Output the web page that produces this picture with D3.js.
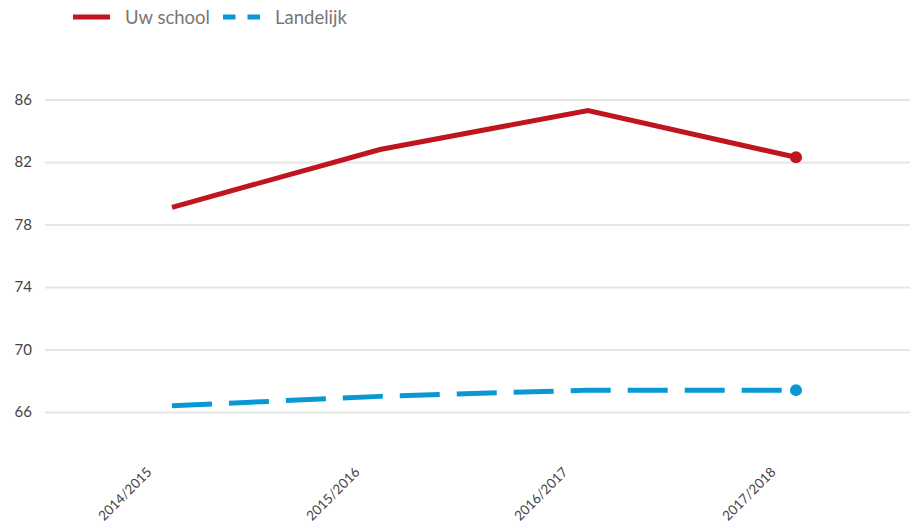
<!DOCTYPE html>
<html><head><meta charset="utf-8">
<script src="https://cdn.jsdelivr.net/npm/d3@7"></script>
<style>body{margin:0;background:#fff}svg{display:block}</style>
</head><body>
<svg id="c" width="910" height="529"></svg>
<script>
const categories = ["2014/2015","2015/2016","2016/2017","2017/2018"];
const uwSchool = [79.1, 82.8, 85.3, 82.3];
const landelijk = [66.4, 67.0, 67.4, 67.4];
const yTicks = [66, 70, 74, 78, 82, 86];
const seriesNames = ["Uw school", "Landelijk"];

const W = 910, H = 529;
const svg = d3.select("#c");
const font = "Lato, 'Open Sans', sans-serif";
const red = "#c0141f", blue = "#0a98d4";

const x = d3.scalePoint().domain(categories).range([172, 796]);
const y = d3.scaleLinear().domain([62, 90]).range([474.5, 37]);

// gridlines
const yAxis = d3.axisLeft(y).tickValues(yTicks).tickSize(-(910 - 45)).tickPadding(13).tickFormat(d3.format("d"));
const gy = svg.append("g").attr("transform", "translate(45,0)").call(yAxis);
gy.select(".domain").remove();
gy.selectAll(".tick line").attr("stroke", "#e6e6e6").attr("stroke-width", 2.2);
gy.selectAll(".tick text").attr("fill", "#444").style("font-family", font).style("font-size", "15px");

// x labels
const xAxis = d3.axisBottom(x).tickSize(0).tickPadding(0);
const gx = svg.append("g").attr("transform", "translate(0,470)").call(xAxis);
gx.select(".domain").remove();
gx.selectAll(".tick text")
  .attr("text-anchor", "end")
  .attr("dy", 0)
  .attr("transform", "translate(-20,3) rotate(-45)")
  .attr("fill", "#444").style("font-family", font).style("font-size", "13.5px");

const line = d3.line().x((d, i) => x(categories[i])).y(d => y(d));

svg.append("path").datum(uwSchool).attr("d", line)
  .attr("fill", "none").attr("stroke", red).attr("stroke-width", 5);
svg.append("path").datum(landelijk).attr("d", line)
  .attr("fill", "none").attr("stroke", blue).attr("stroke-width", 5).attr("stroke-dasharray", "40,17");

const last = categories.length - 1;
svg.append("circle").attr("cx", x(categories[last])).attr("cy", y(uwSchool[last])).attr("r", 6).attr("fill", red);
svg.append("circle").attr("cx", x(categories[last])).attr("cy", y(landelijk[last])).attr("r", 6).attr("fill", blue);

// legend
const lg = svg.append("g");
lg.append("line").attr("x1", 73).attr("x2", 110).attr("y1", 17).attr("y2", 17).attr("stroke", red).attr("stroke-width", 5);
lg.append("text").attr("x", 125).attr("y", 23.5).text(seriesNames[0])
  .attr("fill", "#777").style("font-family", font).style("font-size", "18.5px");
lg.append("line").attr("x1", 223).attr("x2", 260).attr("y1", 17).attr("y2", 17).attr("stroke", blue).attr("stroke-width", 5).attr("stroke-dasharray", "12.5,12");
lg.append("text").attr("x", 275).attr("y", 23.5).text(seriesNames[1])
  .attr("fill", "#777").style("font-family", font).style("font-size", "18.5px");
</script>
</body></html>
